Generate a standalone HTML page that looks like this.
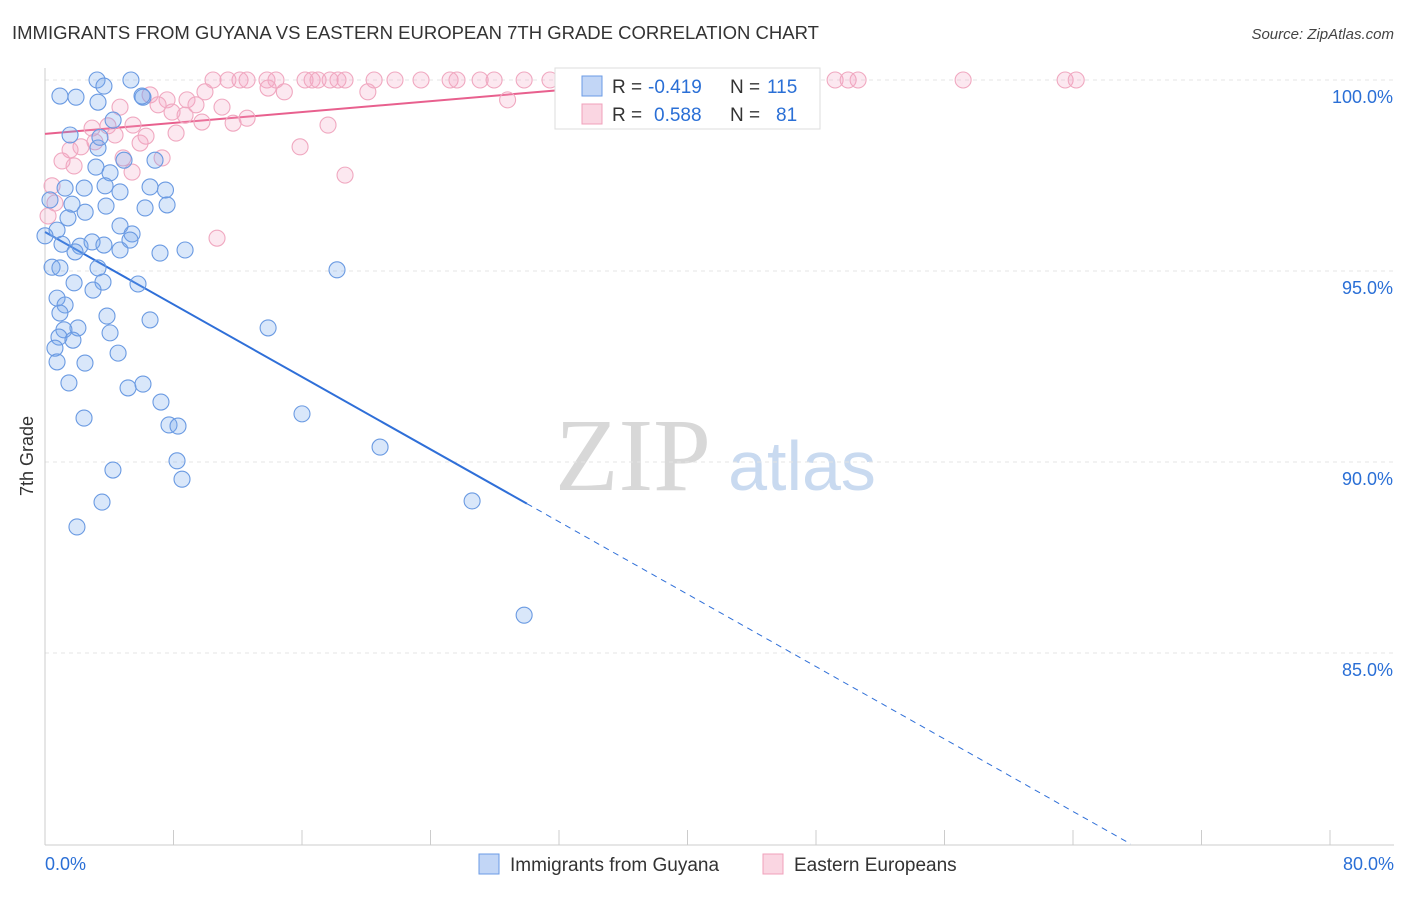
<!DOCTYPE html>
<html><head><meta charset="utf-8">
<style>
body{margin:0;background:#fff;font-family:"Liberation Sans",sans-serif;}
</style></head>
<body>
<svg id="chart" width="1406" height="892" viewBox="0 0 1406 892" xmlns="http://www.w3.org/2000/svg" font-family="Liberation Sans, sans-serif">
<text x="12" y="39" font-size="18.5" fill="#333">IMMIGRANTS FROM GUYANA VS EASTERN EUROPEAN 7TH GRADE CORRELATION CHART</text>
<text x="1394" y="39" font-size="15" fill="#444" text-anchor="end" font-style="italic">Source: ZipAtlas.com</text>
<text transform="translate(33,456) rotate(-90)" font-size="18" fill="#333" text-anchor="middle">7th Grade</text>
<g>
<text x="633" y="490" font-size="104" fill="#d8d8d8" style="font-family:'Liberation Serif',serif" text-anchor="middle">ZIP</text>
<text x="802" y="490" font-size="70" fill="#c9daf0" text-anchor="middle">atlas</text>
</g>
<g id="grid"></g>
<g id="axes"></g>
<g id="trend"></g>
<g id="points"></g>
<g>
<rect x="555" y="68" width="265" height="61" fill="#fff" stroke="#ddd"/>
<rect x="582" y="76" width="20" height="20" fill="rgba(120,165,235,0.45)" stroke="#6b9be6"/>
<rect x="582" y="104" width="20" height="20" fill="rgba(245,165,190,0.45)" stroke="#f0a0bb"/>
<text x="612" y="93" font-size="19" fill="#333">R =</text>
<text x="648" y="93" font-size="19" fill="#2a6fd6">-0.419</text>
<text x="730" y="93" font-size="19" fill="#333">N =</text>
<text x="767" y="93" font-size="19" fill="#2a6fd6">115</text>
<text x="612" y="121" font-size="19" fill="#333">R =</text>
<text x="654" y="121" font-size="19" fill="#2a6fd6">0.588</text>
<text x="730" y="121" font-size="19" fill="#333">N =</text>
<text x="776" y="121" font-size="19" fill="#2a6fd6">81</text>
</g>
<g>
<rect x="479" y="854" width="20" height="20" fill="rgba(120,165,235,0.45)" stroke="#6b9be6"/>
<text x="510" y="871" font-size="19" fill="#333">Immigrants from Guyana</text>
<rect x="763" y="854" width="20" height="20" fill="rgba(245,165,190,0.45)" stroke="#f0a0bb"/>
<text x="794" y="871" font-size="19" fill="#333">Eastern Europeans</text>
</g>
</svg>
<script>
const xTickLabels=["0.0%","80.0%"];
const yTicks=[100,95,90,85];
const yTickLabels=["100.0%","95.0%","90.0%","85.0%"];
const blueX=[3.24,5.35,1.93,3.3,3.67,6.1,4.24,1.56,3.3,4.92,6.85,3.17,4.05,1.25,2.44,3.74,4.67,6.54,7.5,0.31,1.68,3.8,6.23,7.6,2.5,1.43,4.67,5.42,0.75,0,1.06,2.18,2.93,3.67,4.67,5.29,7.16,8.72,1.87,0.44,0.93,3.3,1.81,3.61,2.99,5.79,18.18,0.75,1.25,0.93,3.86,6.54,2.05,1.18,4.05,13.89,0.87,1.74,0.62,4.55,0.75,2.49,1.49,5.17,6.1,7.22,2.43,7.72,8.28,16.0,20.86,8.22,8.53,4.23,3.55,26.59,1.99,29.83,3.42,6.04,0.93];
const blueY=[100,100,99.55,99.42,99.84,99.55,98.95,98.56,98.22,97.9,97.9,97.72,97.57,97.17,97.17,97.23,97.07,97.2,97.12,96.86,96.75,96.7,96.65,96.73,96.54,96.39,96.18,95.97,96.07,95.92,95.7,95.65,95.76,95.68,95.55,95.81,95.47,95.55,95.5,95.1,95.08,95.08,94.69,94.71,94.5,94.66,95.03,94.29,94.11,93.9,93.82,93.72,93.51,93.46,93.38,93.51,93.27,93.19,92.98,92.85,92.62,92.59,92.07,91.94,92.04,91.57,91.15,90.97,90.94,91.26,90.39,90.03,89.55,89.79,88.95,88.98,88.3,85.99,98.5,99.58,99.58];
const pinkX=[10.46,12.14,12.58,13.82,14.38,16.19,16.63,17.0,17.75,18.68,20.49,21.79,23.41,25.22,25.65,27.09,27.96,29.83,31.44,35.06,35.8,39.41,45.14,47.32,49.19,50.0,50.62,57.16,63.51,64.2,11.39,18.24,13.89,14.9,20.1,28.8,6.54,7.6,8.84,9.96,9.4,7.04,4.67,11.02,7.91,8.72,9.77,11.71,12.58,2.93,3.92,5.48,17.62,4.36,6.29,8.16,3.11,2.24,5.92,15.88,1.56,4.86,7.29,1.06,1.81,18.68,5.42,0.44,10.71,0.62,0.19];
const pinkY=[100,100,100,100,100,100,100,100,100,100,100,100,100,100,100,100,100,100,100,100,100,100,100,100,100,100,100,100,100,100,100,100,99.79,99.69,99.69,99.48,99.61,99.48,99.48,99.69,99.35,99.35,99.29,99.29,99.16,99.08,98.9,98.87,99.0,98.74,98.8,98.82,98.82,98.56,98.53,98.61,98.38,98.25,98.35,98.25,98.17,97.96,97.96,97.88,97.75,97.51,97.59,97.23,95.86,96.78,96.44];
const blueTrend=[96.02,-0.237];
const pinkTrend=[98.59,0.0357];
const NS="http://www.w3.org/2000/svg";
const X=v=>45+v*(1285/80);
const Y=v=>80+(100-v)*38.2;
function mk(tag,attrs,parent){const e=document.createElementNS(NS,tag);for(const k in attrs)e.setAttribute(k,attrs[k]);parent.appendChild(e);return e;}
const grid=document.getElementById('grid'),axes=document.getElementById('axes'),trend=document.getElementById('trend'),pts=document.getElementById('points');
yTicks.forEach((t,i)=>{
 const l=mk('line',{x1:45,x2:1394,y1:Y(t),y2:Y(t),stroke:'#e4e4e4','stroke-dasharray':'4,4'},grid);
 
 
 const tx=mk('text',{x:1393,y:Y(t)+23,'font-size':18,fill:'#2a6fd6','text-anchor':'end'},axes);
 tx.textContent=yTickLabels[i];
 
 
});
const ax=mk('line',{x1:45,x2:1394,y1:845,y2:845,stroke:'#ccc'},axes);


const ay=mk('line',{x1:45,x2:45,y1:68,y2:845,stroke:'#ccc'},axes);


for(let i=0;i<=10;i++){
 const t=mk('line',{x1:X(i*8),x2:X(i*8),y1:830,y2:845,stroke:'#ccc'},axes);
 
 
}
[[0,'start',45],[80,'end',1394]].forEach((d,i)=>{
 const t=mk('text',{x:d[2],y:870,'font-size':18,fill:'#2a6fd6','text-anchor':d[1]},axes);
 t.textContent=xTickLabels[i];
 
 
});
function addPts(xs,ys,fill,stroke,name){
 xs.forEach((x,i)=>{
  const c=mk('circle',{cx:X(x),cy:Y(ys[i]),r:8,fill:fill,stroke:stroke,'stroke-width':1.1},pts);
  
  
 });
}
addPts(pinkX,pinkY,'rgba(245,165,195,0.25)','#f0a8c0','point-eastern-european');
addPts(blueX,blueY,'rgba(115,165,235,0.27)','#6a9ae2','point-guyana');
const bEnd=30,bZero=(blueTrend[0]-80)/-blueTrend[1];
const b1=mk('line',{x1:X(0),y1:Y(blueTrend[0]),x2:X(bEnd),y2:Y(blueTrend[0]+blueTrend[1]*bEnd),stroke:'#2f6fd8','stroke-width':2},trend);


const b2=mk('line',{x1:X(bEnd),y1:Y(blueTrend[0]+blueTrend[1]*bEnd),x2:X(bZero),y2:Y(80),stroke:'#2f6fd8','stroke-width':1,'stroke-dasharray':'6,5'},trend);


const pEnd=(100-pinkTrend[0])/pinkTrend[1];
const p1=mk('line',{x1:X(0),y1:Y(pinkTrend[0]),x2:X(pEnd),y2:Y(100),stroke:'#e8608e','stroke-width':2},trend);


</script>
</body></html>
